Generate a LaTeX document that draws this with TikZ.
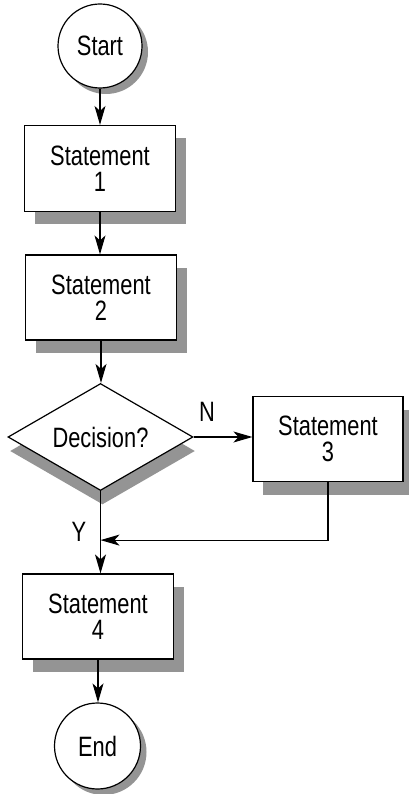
\documentclass[tikz,border=0pt]{standalone}
\usepackage{fontspec}
\setmainfont{Liberation Sans}[FakeStretch=0.78]
\usetikzlibrary{shapes.geometric,arrows.meta,shadows}
\begin{document}
\begin{tikzpicture}[x=1pt,y=-1pt,
  lbl/.style={font=\fontsize{28pt}{26pt}\selectfont},
  boxshadow/.style={drop shadow={shadow xshift=10pt,shadow yshift=-13pt,fill=black!42,opacity=1}},
  stmt/.style={lbl,draw,line width=1.2pt,fill=white,rectangle,inner sep=0pt,
    minimum width=151pt,minimum height=86pt,align=center,boxshadow},
  term/.style={lbl,draw,line width=1.2pt,fill=white,circle,inner sep=0pt,
    drop shadow={shadow xshift=6pt,shadow yshift=-6pt,fill=black!42,opacity=1}},
  decis/.style={lbl,draw,line width=1.2pt,fill=white,diamond,aspect=1.73,inner sep=0pt,
    minimum width=185pt,minimum height=107pt,
    drop shadow={shadow xshift=2pt,shadow yshift=-14pt,fill=black!42,opacity=1}},
  arr/.style={line width=1.2pt,-{Stealth[length=19pt,width=11pt,inset=5pt]}}
]
\useasboundingbox (0,0) rectangle (408,794);

\node[term,minimum size=84pt] (start) at (100,46) {Start};
\node[stmt] (s1) at (100,168.5) {Statement\\1};
\node[stmt,minimum height=85pt] (s2) at (101,297.5) {Statement\\2};
\node[decis] (dec) at (100.5,437) {Decision?};
\node[stmt,minimum width=150pt,minimum height=85pt] (s3) at (328,439) {Statement\\3};
\node[stmt,minimum height=85pt] (s4) at (98,616.5) {Statement\\4};
\node[term,minimum size=86pt] (end) at (97.5,746) {End};

\node[lbl] (nlab) at (207,412) {N};
\node[lbl] (ylab) at (79,532) {Y};

\path (dec.south) ++(0,49) coordinate (m);

\draw[arr] (start.south) -- (start.south |- s1.north);
\draw[arr] (s1.south) -- (s1.south |- s2.north);
\draw[arr] (s2.south) -- (s2.south |- dec.north);
\draw[arr] (dec.east) -- (dec.east -| s3.west);
\draw[arr] (dec.south) -- (dec.south |- s4.north);
\draw[arr] (s3.south) |- (m);
\draw[arr] (s4.south) -- (s4.south |- end.north);
\end{tikzpicture}
\end{document}
